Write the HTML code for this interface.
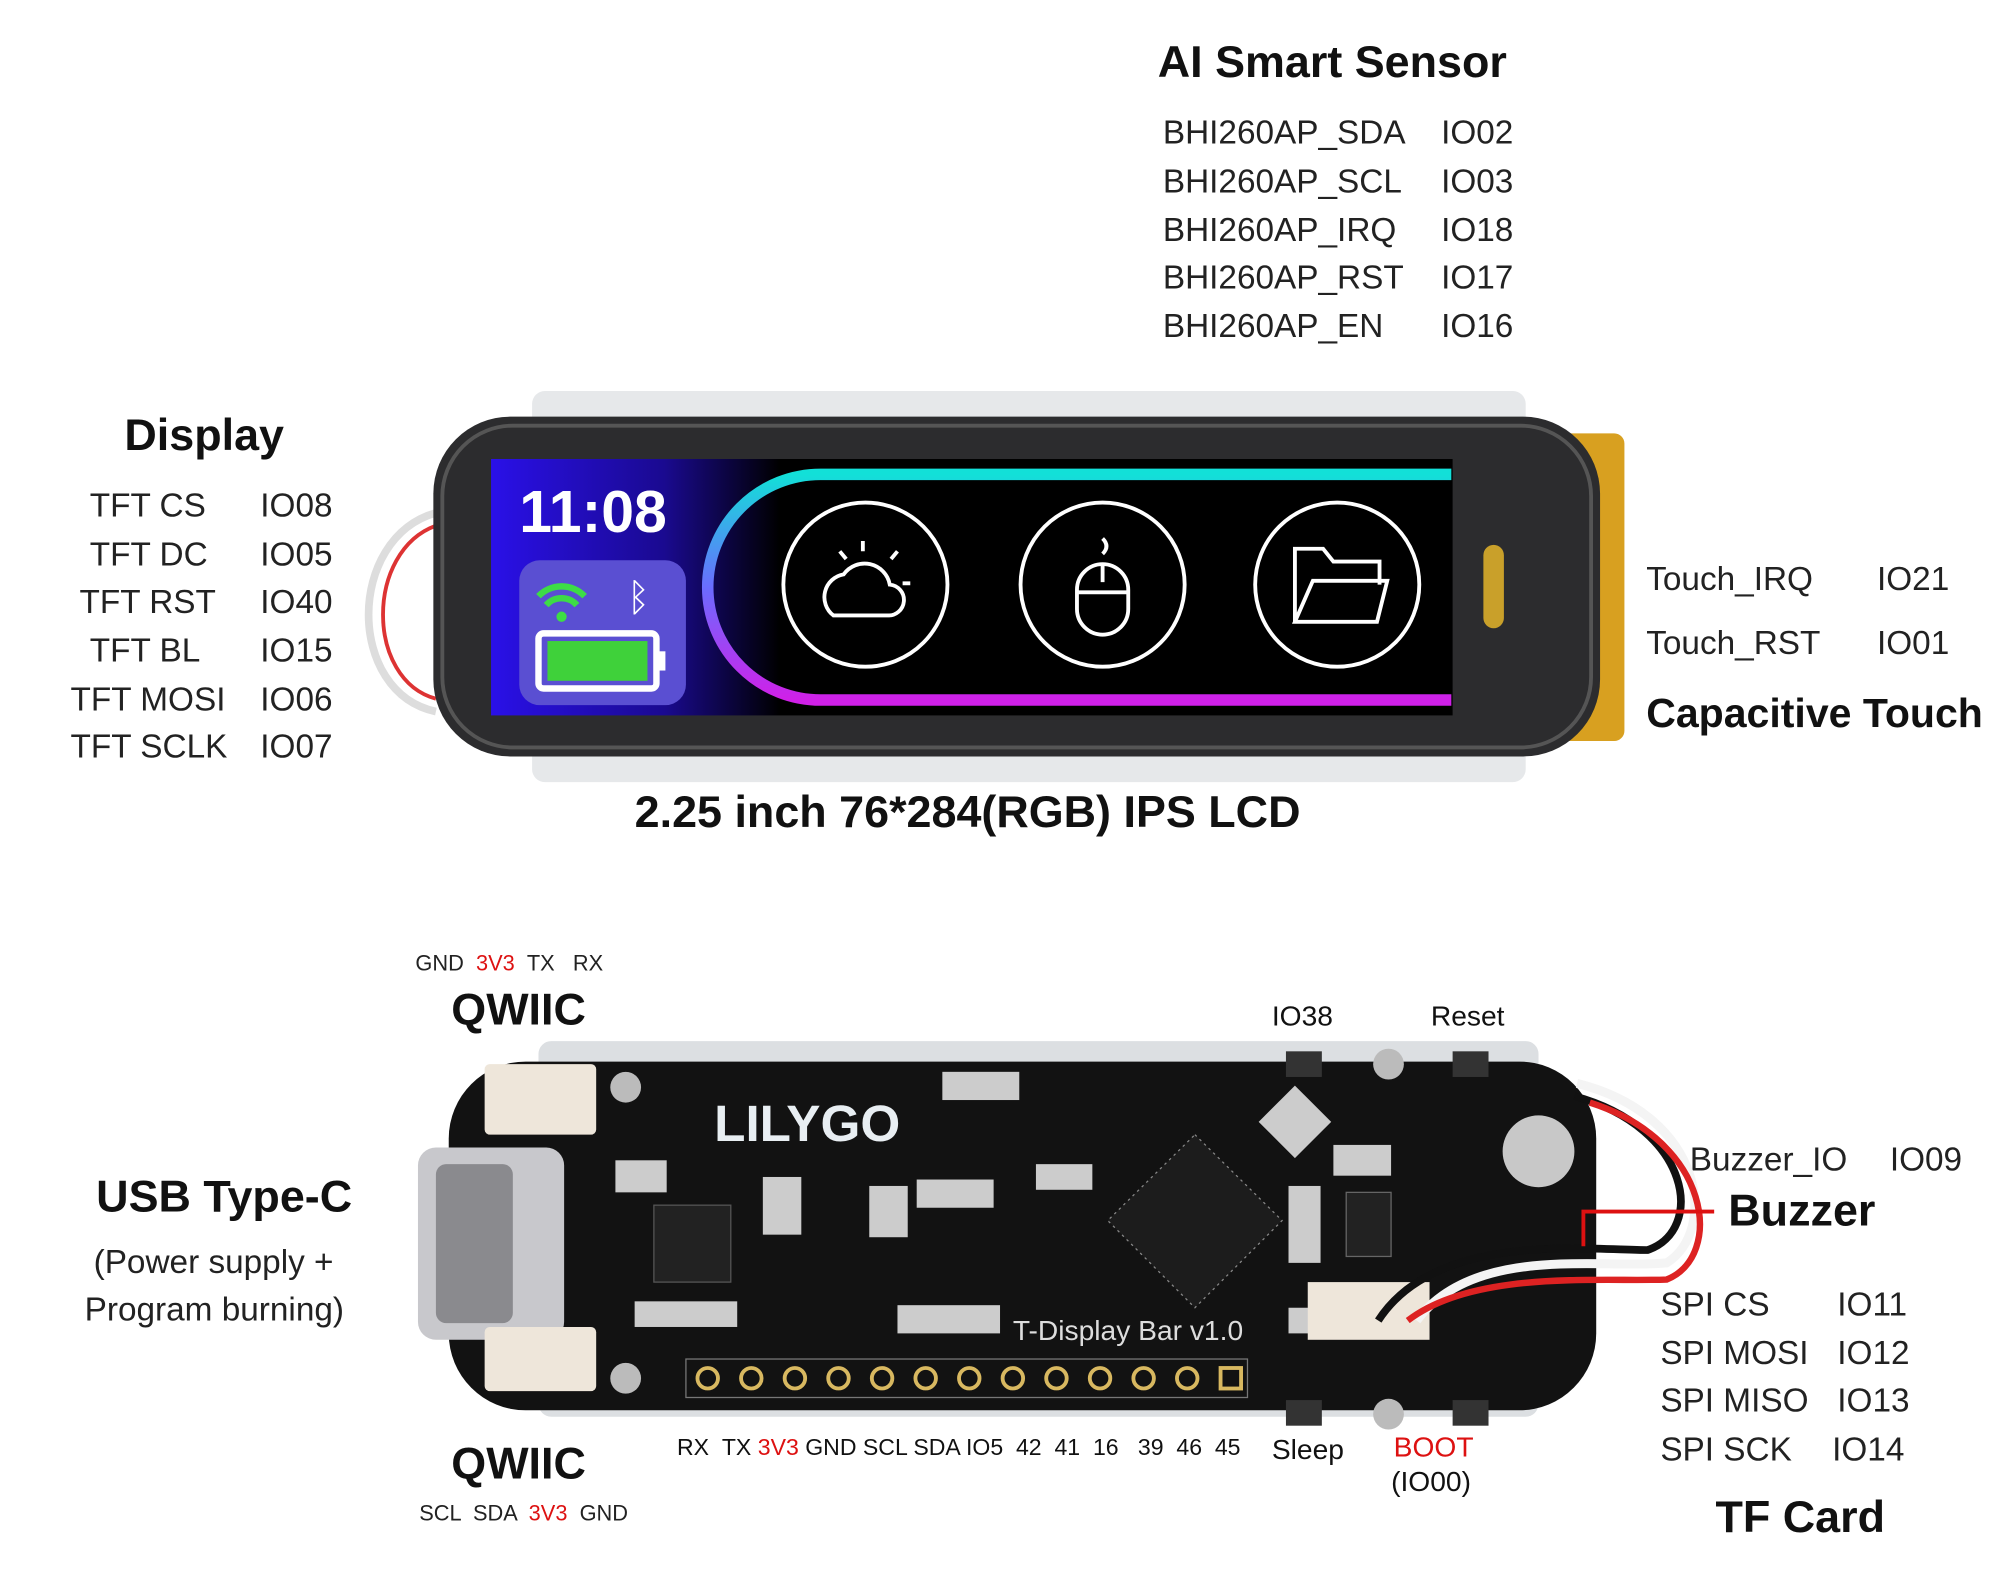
<!DOCTYPE html>
<html><head><meta charset="utf-8"><style>
html,body{margin:0;padding:0;background:#fff;}
body{width:2000px;height:1584px;overflow:hidden;position:relative;}
#w{position:absolute;left:0;top:0;width:1560px;height:1236px;transform:scale(1.2821);transform-origin:0 0;font-family:"Liberation Sans",sans-serif;color:#111;}
.t{position:absolute;white-space:nowrap;line-height:1;}
.b{font-weight:bold;font-size:35px;}
.r{font-size:26px;color:#222;}
.s{font-size:17px;color:#222;}
.red{color:#d11;}
.a{position:absolute;}
</style></head><body><div id="w">

<!-- Top texts -->
<div class="t b" style="left:903px;top:31px;">AI Smart Sensor</div>
<div class="t r" style="left:907px;top:90px;">BHI260AP_SDA</div><div class="t r" style="left:1124px;top:90px;">IO02</div>
<div class="t r" style="left:907px;top:128px;">BHI260AP_SCL</div><div class="t r" style="left:1124px;top:128px;">IO03</div>
<div class="t r" style="left:907px;top:166px;">BHI260AP_IRQ</div><div class="t r" style="left:1124px;top:166px;">IO18</div>
<div class="t r" style="left:907px;top:203px;">BHI260AP_RST</div><div class="t r" style="left:1124px;top:203px;">IO17</div>
<div class="t r" style="left:907px;top:241px;">BHI260AP_EN</div><div class="t r" style="left:1124px;top:241px;">IO16</div>

<div class="t b" style="left:97px;top:322px;">Display</div>
<div class="t r" style="left:70px;top:381px;">TFT CS</div><div class="t r" style="left:203px;top:381px;">IO08</div>
<div class="t r" style="left:70px;top:419px;">TFT DC</div><div class="t r" style="left:203px;top:419px;">IO05</div>
<div class="t r" style="left:62px;top:456px;">TFT RST</div><div class="t r" style="left:203px;top:456px;">IO40</div>
<div class="t r" style="left:70px;top:494px;">TFT BL</div><div class="t r" style="left:203px;top:494px;">IO15</div>
<div class="t r" style="left:55px;top:532px;">TFT MOSI</div><div class="t r" style="left:203px;top:532px;">IO06</div>
<div class="t r" style="left:55px;top:569px;">TFT SCLK</div><div class="t r" style="left:203px;top:569px;">IO07</div>

<div class="t r" style="left:1284px;top:438px;">Touch_IRQ</div><div class="t r" style="left:1464px;top:438px;">IO21</div>
<div class="t r" style="left:1284px;top:488px;">Touch_RST</div><div class="t r" style="left:1464px;top:488px;">IO01</div>
<div class="t b" style="left:1284px;top:540px;font-size:32px;">Capacitive Touch</div>
<div class="t b" style="left:495px;top:616px;">2.25 inch 76*284(RGB) IPS LCD</div>

<!-- Top device -->
<svg class="a" style="left:0;top:0" width="1560" height="680">
 <defs>
  <linearGradient id="scr" x1="0" x2="1"><stop offset="0" stop-color="#2a10e8"/><stop offset="0.18" stop-color="#1a0a90"/><stop offset="0.3" stop-color="#000"/></linearGradient>
  <linearGradient id="ring" x1="0" y1="0" x2="0" y2="1"><stop offset="0" stop-color="#12e0d8"/><stop offset="0.5" stop-color="#6a6cff"/><stop offset="1" stop-color="#d020e8"/></linearGradient>
 </defs>
 <path d="M340 400 C270 420 270 540 340 555" fill="none" stroke="#ddd" stroke-width="6"/>
 <path d="M340 410 C285 430 285 530 340 545" fill="none" stroke="#d33" stroke-width="3"/>
 <rect x="415" y="305" width="775" height="305" rx="10" fill="#e6e8ea"/>
 <rect x="1205" y="338" width="62" height="240" rx="8" fill="#d8a020"/>
 <rect x="338" y="325" width="910" height="265" rx="60" fill="#2c2c2e"/>
 <rect x="345" y="332" width="896" height="251" rx="55" fill="none" stroke="#555" stroke-width="3"/>
 <rect x="383" y="358" width="750" height="200" fill="url(#scr)"/>
 <path d="M1132 370 H640 A80 80 0 0 0 640 546 H1132" fill="none" stroke="url(#ring)" stroke-width="9"/>
 <rect x="405" y="437" width="130" height="113" rx="16" fill="#5a4fd2"/>
 <path d="M420 465 a25 25 0 0 1 36 0 M426 472 a16 16 0 0 1 24 0" fill="none" stroke="#3ddc46" stroke-width="5"/>
 <circle cx="438" cy="481" r="4" fill="#3ddc46"/>
 <text x="498" y="476" font-size="30" fill="#fff" text-anchor="middle" font-family="DejaVu Sans">ᛒ</text>
 <rect x="420" y="494" width="92" height="43" rx="4" fill="none" stroke="#fff" stroke-width="5"/>
 <rect x="427" y="500" width="78" height="31" fill="#3fd13a"/>
 <rect x="514" y="508" width="5" height="15" fill="#fff"/>
 <text x="405" y="415" font-size="46" font-weight="bold" fill="#fff" font-family="Liberation Sans">11:08</text>
 <g fill="none" stroke="#fff" stroke-width="3">
  <circle cx="675" cy="456" r="64"/><circle cx="860" cy="456" r="64"/><circle cx="1043" cy="456" r="64"/>
  <path d="M650 480 a18 18 0 0 1 8 -32 a20 20 0 0 1 36 8 a12 12 0 0 1 -2 24 z"/>
  <path d="M673 422 v8 M700 430 l-5 6 M710 455 h-6 M655 430 l5 6"/>
  <rect x="840" y="440" width="40" height="55" rx="20"/><path d="M840 462 h40 M860 440 v14 M860 420 q6 6 0 12"/>
  <path d="M1010 485 V428 h22 l8 10 h36 v18 M1010 485 l14 -32 h58 l-8 32 z"/>
 </g>
 <rect x="1157" y="425" width="16" height="65" rx="8" fill="#c9a02a"/>
</svg>

<!-- Bottom labels -->
<div class="t s" style="left:324px;top:743px;">GND &nbsp;<span class="red">3V3</span> &nbsp;TX &nbsp;&nbsp;RX</div>
<div class="t b" style="left:352px;top:770px;">QWIIC</div>
<div class="t" style="left:992px;top:782px;font-size:22px;">IO38</div>
<div class="t" style="left:1116px;top:782px;font-size:22px;">Reset</div>
<div class="t b" style="left:75px;top:916px;">USB Type-C</div>
<div class="t r" style="left:73px;top:971px;">(Power supply +</div>
<div class="t r" style="left:66px;top:1008px;">Program burning)</div>
<div class="t r" style="left:1318px;top:891px;">Buzzer_IO</div><div class="t r" style="left:1474px;top:891px;">IO09</div>
<div class="t b" style="left:1348px;top:927px;">Buzzer</div>
<div class="t r" style="left:1295px;top:1004px;">SPI CS</div><div class="t r" style="left:1433px;top:1004px;">IO11</div>
<div class="t r" style="left:1295px;top:1042px;">SPI MOSI</div><div class="t r" style="left:1433px;top:1042px;">IO12</div>
<div class="t r" style="left:1295px;top:1079px;">SPI MISO</div><div class="t r" style="left:1433px;top:1079px;">IO13</div>
<div class="t r" style="left:1295px;top:1117px;">SPI SCK</div><div class="t r" style="left:1429px;top:1117px;">IO14</div>
<div class="t b" style="left:1338px;top:1166px;">TF Card</div>
<div class="t b" style="left:352px;top:1124px;">QWIIC</div>
<div class="t s" style="left:327px;top:1172px;">SCL &nbsp;SDA &nbsp;<span class="red">3V3</span> &nbsp;GND</div>
<div class="t" style="left:528px;top:1120px;font-size:18px;">RX &nbsp;TX <span class="red">3V3</span> GND SCL SDA IO5 &nbsp;42 &nbsp;41 &nbsp;16 &nbsp;&nbsp;39 &nbsp;46 &nbsp;45</div>
<div class="t" style="left:992px;top:1120px;font-size:22px;">Sleep</div>
<div class="t red" style="left:1087px;top:1118px;font-size:22px;">BOOT</div>
<div class="t" style="left:1085px;top:1145px;font-size:22px;">(IO00)</div>

<svg class="a" style="left:0;top:700px" width="1560" height="440">
 <g transform="translate(0,-700)">
 <rect x="420" y="812" width="780" height="293" rx="10" fill="#dcdfe2"/>
 <rect x="350" y="828" width="895" height="272" rx="60" fill="#121212"/>
 <rect x="326" y="895" width="114" height="150" rx="14" fill="#c8c8cc"/>
 <rect x="340" y="908" width="60" height="124" rx="8" fill="#8a8a8e"/>
 <rect x="378" y="830" width="87" height="55" rx="4" fill="#eee6da"/>
 <rect x="378" y="1035" width="87" height="50" rx="4" fill="#eee6da"/>
 <text x="557" y="890" font-size="40" font-weight="bold" fill="#e8eef2" font-family="Liberation Sans">LILYGO</text>
 <text x="790" y="1045" font-size="22" fill="#ddd" font-family="Liberation Sans">T-Display Bar v1.0</text>
 <path d="M932 885 L1000 952 L932 1020 L864 952 Z" fill="#1c1c1c" stroke="#888" stroke-dasharray="2 3"/>
 <g fill="#ccc">
  <rect x="735" y="836" width="60" height="22"/><rect x="595" y="918" width="30" height="45"/><rect x="678" y="925" width="30" height="40"/>
  <rect x="808" y="908" width="44" height="20"/><rect x="715" y="920" width="60" height="22"/><rect x="990" y="855" width="40" height="40" transform="rotate(45 1010 875)"/>
  <rect x="1040" y="893" width="45" height="24"/><rect x="1005" y="925" width="25" height="60"/><rect x="1005" y="1020" width="25" height="20"/>
  <rect x="480" y="905" width="40" height="25"/><rect x="495" y="1015" width="80" height="20"/><rect x="700" y="1018" width="80" height="22"/>
 </g>
 <rect x="510" y="940" width="60" height="60" fill="#222" stroke="#555"/>
 <rect x="1050" y="930" width="35" height="50" fill="#222" stroke="#666"/>
 <rect x="535" y="1060" width="438" height="30" fill="none" stroke="#777"/>
 <g fill="none" stroke="#d8b860" stroke-width="3">
  <circle cx="552" cy="1075" r="8"/><circle cx="586" cy="1075" r="8"/><circle cx="620" cy="1075" r="8"/><circle cx="654" cy="1075" r="8"/><circle cx="688" cy="1075" r="8"/><circle cx="722" cy="1075" r="8"/><circle cx="756" cy="1075" r="8"/><circle cx="790" cy="1075" r="8"/><circle cx="824" cy="1075" r="8"/><circle cx="858" cy="1075" r="8"/><circle cx="892" cy="1075" r="8"/><circle cx="926" cy="1075" r="8"/><rect x="952" y="1067" width="16" height="16"/>
 </g>
 <circle cx="488" cy="848" r="12" fill="#bbb"/><circle cx="488" cy="1075" r="12" fill="#bbb"/>
 <circle cx="1083" cy="830" r="12" fill="#bbb"/><circle cx="1083" cy="1103" r="12" fill="#bbb"/>
 <circle cx="1200" cy="898" r="28" fill="#c8c8c8"/>
 <rect x="1003" y="820" width="28" height="20" fill="#333"/><rect x="1133" y="820" width="28" height="20" fill="#333"/>
 <rect x="1003" y="1092" width="28" height="20" fill="#333"/><rect x="1133" y="1092" width="28" height="20" fill="#333"/>
 <rect x="1020" y="1000" width="95" height="45" fill="#eee6da"/>
 <path d="M1230 845 C1330 870 1340 960 1300 985 C1250 990 1150 970 1105 1030" fill="none" stroke="#f4f4f4" stroke-width="7"/>
 <path d="M1228 855 C1320 880 1330 960 1285 975 C1240 975 1120 960 1075 1030" fill="none" stroke="#111" stroke-width="6"/>
 <path d="M1240 860 C1335 890 1345 980 1300 998 C1250 1000 1150 990 1098 1030" fill="none" stroke="#d22" stroke-width="5"/>
 <path d="M1235 972 V945 H1337" fill="none" stroke="#d11" stroke-width="3"/>
 </g>
</svg>
</div></body></html>
